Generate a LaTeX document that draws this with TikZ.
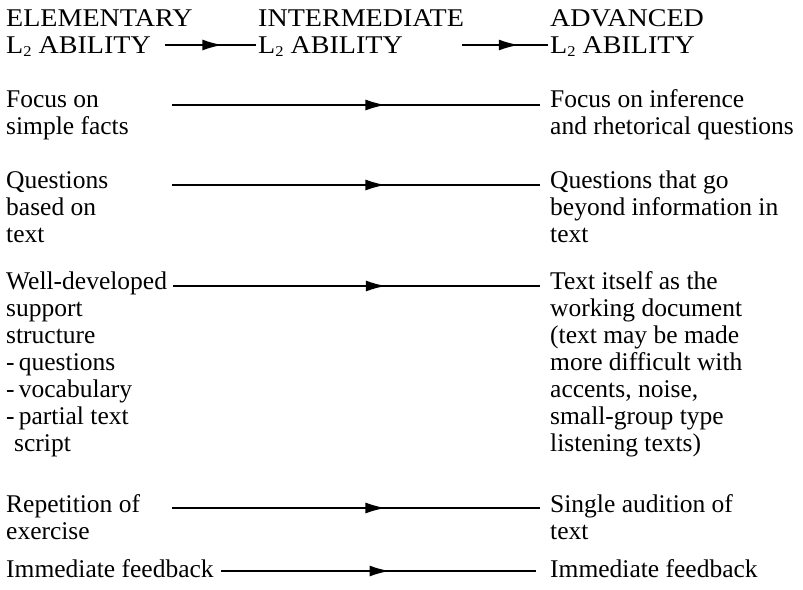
\documentclass[tikz,border=0pt]{standalone}
\usepackage{fontspec}
\setmainfont{Liberation Serif}
\newfontfamily\hdfont[FakeStretch=1.1]{Liberation Serif}
\usetikzlibrary{arrows.meta,decorations.markings}
\newcommand{\stack}[1]{\begin{tabular}[t]{@{}l@{}}#1\end{tabular}}
\newcommand{\Ltwo}{L\raisebox{-3pt}{\fontsize{15}{15}\selectfont 2}}
\tikzset{
  txt/.style={anchor=base west,inner sep=0pt,font=\fontsize{25.5}{27}\selectfont},
  hd/.style={txt,font=\fontsize{25.5}{27.5}\selectfont\hdfont},
  flow/.style={line width=1.7pt,decoration={markings,mark=at position #1 with {\arrow{Latex[length=20pt,width=11pt]}}},postaction={decorate}},
}
\begin{document}
\begin{tikzpicture}[x=1pt,y=-1pt]
\useasboundingbox (0,0) rectangle (803,589);
% headers
\node[hd] (h1) at (6,26) {\stack{ELEMENTARY\\\Ltwo{} ABILITY}};
\node[hd] (h2) at (258,26) {\stack{INTERMEDIATE\\\Ltwo{} ABILITY}};
\node[hd] (h3) at (550,26) {\stack{ADVANCED\\\Ltwo{} ABILITY}};
\coordinate (h1s) at (165,45); \coordinate (h1e) at (256,45);
\coordinate (h2s) at (462,45); \coordinate (h2e) at (548,45);
\draw[flow=0.63] (h1s) -- (h1e);
\draw[flow=0.66] (h2s) -- (h2e);
% row 1
\node[txt] (l1) at (6,107) {\stack{Focus on\\simple facts}};
\node[txt] (r1) at (550,107) {\stack{Focus on inference\\and rhetorical questions}};
\coordinate (a1s) at (172,105); \coordinate (a1e) at (540,105);
\draw[flow=0.58] (a1s) -- (a1e);
% row 2
\node[txt] (l2) at (6,188) {\stack{Questions\\based on\\text}};
\node[txt] (r2) at (550,188) {\stack{Questions that go\\beyond information in\\text}};
\coordinate (a2s) at (172,185); \coordinate (a2e) at (540,185);
\draw[flow=0.58] (a2s) -- (a2e);
% row 3
\node[txt] (l3) at (6,289) {\stack{Well-developed\\support\\structure\\-\,questions\\-\,vocabulary\\-\,partial text\\\hspace{8pt}script}};
\node[txt] (r3) at (550,289) {\stack{Text itself as the\\working document\\(text may be made\\more difficult with\\accents, noise,\\small-group type\\listening texts)}};
\coordinate (a3s) at (173,286); \coordinate (a3e) at (540,286);
\draw[flow=0.58] (a3s) -- (a3e);
% row 4
\node[txt] (l4) at (6,512) {\stack{Repetition of\\exercise}};
\node[txt] (r4) at (550,512) {\stack{Single audition of\\text}};
\coordinate (a4s) at (172,508); \coordinate (a4e) at (540,508);
\draw[flow=0.58] (a4s) -- (a4e);
% row 5
\node[txt] (l5) at (6,577) {Immediate feedback};
\node[txt] (r5) at (550,577) {Immediate feedback};
\coordinate (a5s) at (221,571); \coordinate (a5e) at (536,571);
\draw[flow=0.535] (a5s) -- (a5e);
\end{tikzpicture}
\end{document}
